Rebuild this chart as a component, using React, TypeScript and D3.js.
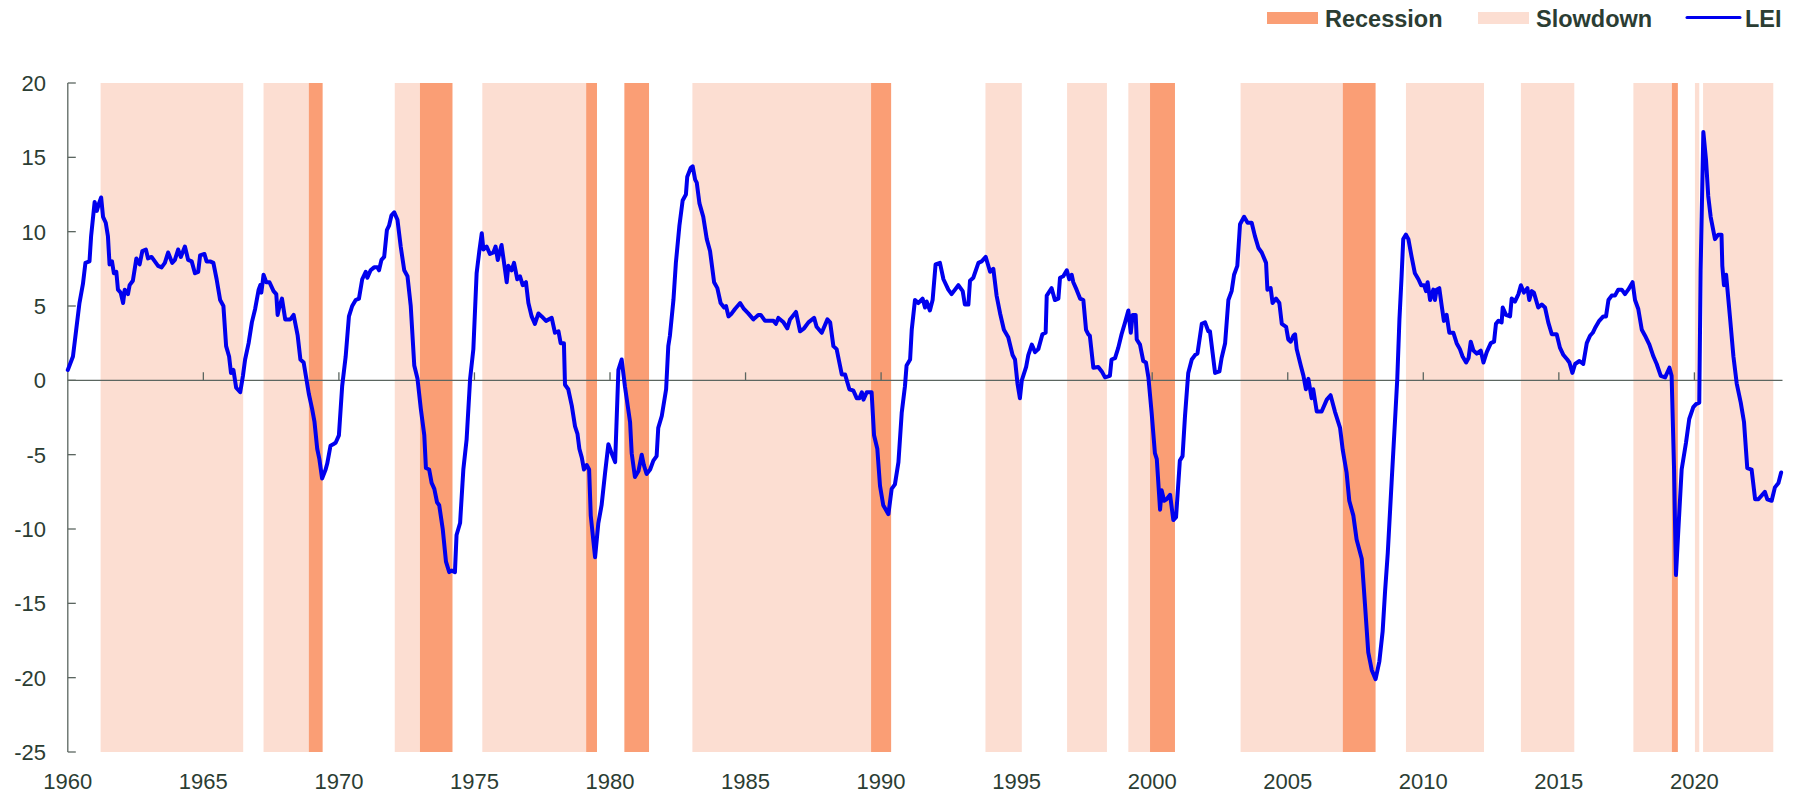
import React from 'react';
import * as d3 from 'd3';

// periods are [start, end] in decimal years
const slowdowns: Array<[number, number]> = [
  [1961.21, 1966.47], [1967.22, 1968.89], [1972.06, 1972.99], [1975.29, 1979.12],
  [1983.04, 1989.63], [1993.85, 1995.19], [1996.86, 1998.33], [1999.12, 1999.92],
  [2003.26, 2007.03], [2009.36, 2012.24], [2013.6, 2015.57], [2017.75, 2019.17],
  [2020.02, 2020.18], [2020.32, 2022.91]
];

const recessions: Array<[number, number]> = [
  [1968.89, 1969.4], [1972.99, 1974.19], [1979.12, 1979.52], [1980.53, 1981.44],
  [1989.63, 1990.37], [1999.92, 2000.84], [2007.03, 2008.24], [2019.17, 2019.39]
];

// LEI, [year, value]
const lei: Array<[number, number]> = [
  [1960.0, 0.7], [1960.19, 1.6], [1960.31, 3.4], [1960.43, 5.2], [1960.56, 6.5], [1960.65, 7.9], [1960.8, 8.0],
  [1960.86, 9.7], [1960.99, 12.0], [1961.07, 11.4], [1961.15, 11.9], [1961.23, 12.3], [1961.3, 11.0], [1961.4, 10.6],
  [1961.48, 9.7], [1961.54, 7.8], [1961.63, 8.0], [1961.7, 7.2], [1961.79, 7.3], [1961.85, 6.1], [1961.95, 5.9],
  [1962.04, 5.2], [1962.1, 6.1], [1962.22, 5.8], [1962.28, 6.4], [1962.4, 6.7], [1962.53, 8.2], [1962.65, 7.8],
  [1962.75, 8.7], [1962.88, 8.8], [1962.96, 8.2], [1963.09, 8.3], [1963.21, 8.0], [1963.33, 7.7], [1963.46, 7.6],
  [1963.58, 7.9], [1963.7, 8.6], [1963.85, 7.9], [1963.95, 8.1], [1964.07, 8.8], [1964.17, 8.3], [1964.32, 9.0],
  [1964.44, 8.1], [1964.57, 8.0], [1964.69, 7.2], [1964.81, 7.3], [1964.88, 8.4], [1965.04, 8.5], [1965.12, 8.0],
  [1965.25, 8.0], [1965.37, 7.9], [1965.49, 6.8], [1965.62, 5.4], [1965.74, 5.0], [1965.84, 2.3], [1965.95, 1.6],
  [1966.02, 0.5], [1966.11, 0.7], [1966.21, -0.5], [1966.36, -0.8], [1966.46, 0.3], [1966.54, 1.4], [1966.67, 2.5],
  [1966.79, 3.9], [1966.91, 4.8], [1967.04, 6.1], [1967.1, 6.4], [1967.14, 5.9], [1967.22, 7.1], [1967.32, 6.6],
  [1967.44, 6.6], [1967.59, 6.0], [1967.69, 5.8], [1967.74, 4.4], [1967.81, 5.0], [1967.9, 5.5], [1968.02, 4.1],
  [1968.21, 4.1], [1968.33, 4.4], [1968.48, 3.0], [1968.58, 1.4], [1968.7, 1.2], [1968.8, 0.1], [1968.89, -0.9],
  [1969.01, -1.9], [1969.1, -2.8], [1969.2, -4.6], [1969.28, -5.3], [1969.38, -6.6], [1969.51, -6.0], [1969.57, -5.6],
  [1969.69, -4.4], [1969.79, -4.3], [1969.88, -4.2], [1970.0, -3.7], [1970.12, -0.4], [1970.25, 1.6], [1970.37, 4.3],
  [1970.49, 5.0], [1970.62, 5.4], [1970.74, 5.5], [1970.86, 6.8], [1970.99, 7.3], [1971.05, 6.9], [1971.17, 7.4],
  [1971.3, 7.6], [1971.42, 7.6], [1971.48, 7.4], [1971.57, 8.1], [1971.67, 8.3], [1971.77, 10.1], [1971.85, 10.4],
  [1971.94, 11.1], [1972.04, 11.3], [1972.16, 10.8], [1972.28, 9.0], [1972.41, 7.4], [1972.53, 7.0], [1972.65, 5.0],
  [1972.78, 1.0], [1972.9, 0.1], [1973.02, -1.9], [1973.15, -3.7], [1973.21, -5.9], [1973.33, -6.0], [1973.42, -6.9],
  [1973.52, -7.3], [1973.62, -8.2], [1973.7, -8.4], [1973.83, -10.0], [1973.95, -12.2], [1974.07, -12.9], [1974.16, -12.8],
  [1974.28, -12.9], [1974.34, -10.4], [1974.47, -9.6], [1974.59, -6.0], [1974.71, -4.0], [1974.84, 0.1], [1974.96, 2.1],
  [1975.08, 7.2], [1975.18, 8.7], [1975.27, 9.9], [1975.33, 8.8], [1975.45, 9.0], [1975.57, 8.5], [1975.7, 8.6],
  [1975.78, 9.0], [1975.86, 8.1], [1975.94, 8.7], [1976.0, 9.1], [1976.13, 7.4], [1976.19, 6.6], [1976.25, 7.7],
  [1976.37, 7.4], [1976.46, 7.9], [1976.58, 6.8], [1976.68, 7.0], [1976.78, 6.4], [1976.9, 6.6], [1976.99, 5.2],
  [1977.11, 4.3], [1977.23, 3.8], [1977.36, 4.5], [1977.48, 4.3], [1977.64, 4.0], [1977.85, 4.2], [1977.97, 3.2],
  [1978.1, 3.3], [1978.18, 2.5], [1978.3, 2.5], [1978.34, -0.3], [1978.46, -0.6], [1978.59, -1.7], [1978.71, -3.1],
  [1978.8, -3.6], [1978.87, -4.6], [1978.96, -5.2], [1979.04, -6.0], [1979.14, -5.7], [1979.23, -6.0], [1979.29, -9.1],
  [1979.45, -11.9], [1979.57, -9.6], [1979.69, -8.4], [1979.82, -6.2], [1979.94, -4.3], [1980.06, -4.9], [1980.19, -5.5],
  [1980.31, 0.7], [1980.43, 1.4], [1980.55, -0.4], [1980.74, -2.8], [1980.8, -4.9], [1980.92, -6.5], [1981.05, -6.1],
  [1981.17, -5.0], [1981.25, -5.7], [1981.35, -6.3], [1981.48, -6.0], [1981.6, -5.4], [1981.72, -5.1], [1981.78, -3.2],
  [1981.91, -2.4], [1982.07, -0.6], [1982.15, 2.3], [1982.21, 3.0], [1982.34, 5.4], [1982.43, 7.9], [1982.56, 10.4],
  [1982.68, 12.1], [1982.8, 12.5], [1982.85, 13.7], [1982.98, 14.3], [1983.05, 14.4], [1983.14, 13.5], [1983.2, 13.3],
  [1983.3, 11.9], [1983.44, 11.0], [1983.57, 9.5], [1983.69, 8.7], [1983.84, 6.6], [1983.96, 6.2], [1984.08, 5.2],
  [1984.21, 4.9], [1984.28, 5.0], [1984.37, 4.3], [1984.49, 4.5], [1984.61, 4.8], [1984.8, 5.2], [1984.94, 4.8],
  [1985.1, 4.5], [1985.29, 4.1], [1985.47, 4.4], [1985.56, 4.4], [1985.72, 4.0], [1986.03, 4.0], [1986.12, 3.8],
  [1986.21, 4.2], [1986.4, 3.9], [1986.54, 3.5], [1986.64, 4.1], [1986.86, 4.6], [1987.01, 3.3], [1987.16, 3.5],
  [1987.32, 3.9], [1987.53, 4.2], [1987.62, 3.6], [1987.81, 3.2], [1988.02, 4.1], [1988.12, 3.9], [1988.24, 2.3],
  [1988.36, 2.1], [1988.55, 0.4], [1988.67, 0.4], [1988.83, -0.6], [1988.98, -0.7], [1989.1, -1.2], [1989.2, -1.2],
  [1989.29, -0.8], [1989.35, -1.3], [1989.47, -0.8], [1989.65, -0.8], [1989.74, -3.7], [1989.86, -4.6], [1989.96, -7.1],
  [1990.08, -8.4], [1990.27, -9.0], [1990.39, -7.3], [1990.51, -7.0], [1990.64, -5.5], [1990.76, -2.2], [1990.88, -0.4],
  [1990.94, 1.0], [1991.07, 1.4], [1991.13, 3.4], [1991.25, 5.4], [1991.37, 5.2], [1991.53, 5.5], [1991.62, 4.9],
  [1991.68, 5.3], [1991.8, 4.7], [1991.9, 5.4], [1992.01, 7.8], [1992.17, 7.9], [1992.3, 6.8], [1992.48, 6.1],
  [1992.6, 5.8], [1992.85, 6.4], [1993.01, 6.0], [1993.09, 5.1], [1993.22, 5.1], [1993.28, 6.7], [1993.4, 6.9],
  [1993.59, 7.9], [1993.71, 8.0], [1993.86, 8.3], [1994.02, 7.3], [1994.14, 7.5], [1994.26, 5.7], [1994.39, 4.5],
  [1994.53, 3.4], [1994.69, 2.9], [1994.85, 1.7], [1994.94, 1.4], [1995.03, -0.2], [1995.12, -1.2], [1995.19, 0.0],
  [1995.35, 0.9], [1995.43, 1.7], [1995.56, 2.4], [1995.68, 1.9], [1995.8, 2.1], [1995.95, 3.1], [1996.07, 3.2],
  [1996.11, 5.7], [1996.29, 6.2], [1996.41, 5.4], [1996.54, 5.5], [1996.6, 6.9], [1996.72, 7.0], [1996.85, 7.4],
  [1996.94, 6.8], [1997.03, 7.1], [1997.09, 6.6], [1997.21, 6.1], [1997.34, 5.5], [1997.46, 5.4], [1997.56, 3.4],
  [1997.64, 3.1], [1997.7, 3.0], [1997.83, 0.85], [1998.01, 0.9], [1998.14, 0.6], [1998.26, 0.2], [1998.44, 0.3],
  [1998.5, 1.4], [1998.63, 1.5], [1998.75, 2.2], [1998.87, 3.1], [1999.0, 3.9], [1999.12, 4.7], [1999.21, 3.2],
  [1999.28, 4.4], [1999.39, 4.4], [1999.43, 2.75], [1999.55, 2.4], [1999.67, 1.3], [1999.77, 1.2], [1999.86, 0.2],
  [1999.98, -2.2], [2000.1, -4.9], [2000.17, -5.3], [2000.29, -8.7], [2000.35, -7.4], [2000.44, -8.1], [2000.53, -8.0],
  [2000.66, -7.7], [2000.78, -9.4], [2000.88, -9.2], [2001.02, -5.4], [2001.12, -5.1], [2001.21, -2.4], [2001.33, 0.5],
  [2001.46, 1.4], [2001.58, 1.7], [2001.67, 1.8], [2001.83, 3.8], [2001.95, 3.9], [2002.07, 3.3], [2002.13, 3.3],
  [2002.32, 0.5], [2002.48, 0.6], [2002.56, 1.5], [2002.69, 2.5], [2002.81, 5.4], [2002.93, 6.0], [2003.02, 7.1],
  [2003.14, 7.7], [2003.24, 10.5], [2003.39, 11.0], [2003.52, 10.6], [2003.67, 10.6], [2003.79, 9.7], [2003.92, 8.9],
  [2004.04, 8.6], [2004.2, 7.9], [2004.25, 6.1], [2004.37, 6.2], [2004.44, 5.2], [2004.57, 5.5], [2004.69, 5.2],
  [2004.78, 3.8], [2004.94, 3.6], [2005.02, 2.75], [2005.11, 2.6], [2005.21, 3.0], [2005.27, 3.1], [2005.33, 2.1],
  [2005.48, 1.0], [2005.58, 0.3], [2005.67, -0.6], [2005.76, 0.1], [2005.88, -1.2], [2005.94, -0.6], [2006.07, -2.1],
  [2006.25, -2.1], [2006.44, -1.3], [2006.58, -1.0], [2006.74, -2.1], [2006.93, -3.2], [2007.03, -4.7], [2007.17, -6.2],
  [2007.27, -8.1], [2007.42, -9.1], [2007.54, -10.7], [2007.73, -12.0], [2007.85, -15.1], [2007.97, -18.3], [2008.1, -19.5],
  [2008.24, -20.1], [2008.38, -18.9], [2008.5, -16.9], [2008.59, -14.2], [2008.69, -11.6], [2008.83, -6.9], [2008.96, -2.6],
  [2009.04, 0.1], [2009.12, 4.1], [2009.2, 7.0], [2009.26, 9.5], [2009.36, 9.8], [2009.45, 9.5], [2009.57, 8.3],
  [2009.69, 7.2], [2009.82, 6.8], [2009.92, 6.4], [2010.03, 6.4], [2010.1, 6.0], [2010.16, 6.6], [2010.25, 5.4],
  [2010.37, 6.1], [2010.43, 5.4], [2010.49, 6.1], [2010.59, 6.2], [2010.68, 5.0], [2010.76, 4.0], [2010.86, 4.4],
  [2010.96, 3.2], [2011.11, 3.2], [2011.23, 2.5], [2011.35, 2.1], [2011.45, 1.6], [2011.58, 1.2], [2011.67, 1.5],
  [2011.75, 2.6], [2011.85, 2.0], [2011.97, 1.8], [2012.12, 2.0], [2012.22, 1.2], [2012.34, 1.9], [2012.49, 2.5],
  [2012.61, 2.6], [2012.68, 3.8], [2012.77, 4.0], [2012.89, 3.9], [2012.93, 4.9], [2013.05, 4.4], [2013.2, 4.3],
  [2013.26, 5.5], [2013.38, 5.3], [2013.51, 5.8], [2013.6, 6.4], [2013.71, 5.9], [2013.84, 6.2], [2013.91, 5.4],
  [2014.0, 6.0], [2014.08, 5.9], [2014.24, 4.9], [2014.37, 5.1], [2014.49, 4.9], [2014.61, 3.9], [2014.74, 3.1],
  [2014.92, 3.1], [2015.04, 2.2], [2015.17, 1.7], [2015.31, 1.4], [2015.39, 1.2], [2015.5, 0.5], [2015.6, 1.1],
  [2015.76, 1.3], [2015.9, 1.1], [2016.03, 2.5], [2016.15, 3.0], [2016.25, 3.2], [2016.33, 3.5], [2016.49, 4.0],
  [2016.64, 4.3], [2016.74, 4.3], [2016.83, 5.4], [2016.95, 5.7], [2017.07, 5.7], [2017.19, 6.1], [2017.32, 6.1],
  [2017.44, 5.8], [2017.56, 6.1], [2017.72, 6.6], [2017.81, 5.4], [2017.93, 4.8], [2018.06, 3.4], [2018.18, 3.0],
  [2018.34, 2.4], [2018.49, 1.6], [2018.61, 1.1], [2018.76, 0.3], [2018.92, 0.2], [2019.08, 0.85], [2019.16, 0.3],
  [2019.25, -6.0], [2019.32, -13.1], [2019.41, -10.0], [2019.53, -6.0], [2019.69, -4.2], [2019.81, -2.6], [2019.96, -1.8],
  [2020.06, -1.6], [2020.18, -1.5], [2020.23, 7.4], [2020.33, 16.7], [2020.43, 14.8], [2020.51, 12.4], [2020.6, 11.0],
  [2020.76, 9.5], [2020.88, 9.8], [2021.0, 9.8], [2021.03, 7.7], [2021.09, 6.4], [2021.17, 7.1], [2021.21, 6.3],
  [2021.31, 4.3], [2021.44, 1.6], [2021.56, -0.2], [2021.71, -1.5], [2021.83, -2.8], [2021.95, -5.9], [2022.11, -6.0],
  [2022.24, -8.0], [2022.36, -8.0], [2022.6, -7.5], [2022.69, -8.0], [2022.85, -8.1], [2022.97, -7.2], [2023.1, -6.9],
  [2023.2, -6.2]
];

const yTicks = [20, 15, 10, 5, 0, -5, -10, -15, -20, -25];
const xTicks = [1960, 1965, 1970, 1975, 1980, 1985, 1990, 1995, 2000, 2005, 2010, 2015, 2020];

const WIDTH = 1799;
const HEIGHT = 794;
const RECESSION = '#FA9E75';
const SLOWDOWN = '#FCDED2';
const LINE = '#0000EE';
const AXIS = '#5B6660';
const TEXT = '#2B3D33';
const FONT = '"Liberation Sans", Arial, sans-serif';

export default function App() {
  const xScale = d3.scaleLinear().domain([1960, 2023.25]).range([67.8, 1782.5]);
  const yScale = d3.scaleLinear().domain([-25, 20]).range([752, 83]);

  const line: any = d3
    .line<[number, number]>()
    .x(d => xScale(d[0]))
    .y(d => yScale(d[1]))
    .curve(d3.curveLinear);

  const top = yScale(20);
  const bottom = yScale(-25);
  const zero = yScale(0);

  const band = (p: [number, number], i: number, fill: string) => (
    <rect
      key={fill + i}
      x={xScale(p[0])}
      y={top}
      width={xScale(p[1]) - xScale(p[0])}
      height={bottom - top}
      fill={fill}
    />
  );

  return (
    <div style={{ position: 'absolute', left: 0, top: 0 }}>
      <svg width={WIDTH} height={HEIGHT} style={{ display: 'block' }} fontFamily={FONT}>
        <rect width={WIDTH} height={HEIGHT} fill="#fff" />
        {/* 阴影区间 */}
        {slowdowns.map((p, i) => band(p, i, SLOWDOWN))}
        {recessions.map((p, i) => band(p, i, RECESSION))}

        {/* y轴 */}
        <line x1={xScale(1960)} x2={xScale(1960)} y1={top} y2={bottom} stroke={AXIS} strokeWidth={1.3} />
        {yTicks.map(t => (
          <g key={t}>
            <line x1={xScale(1960)} x2={xScale(1960) + 8} y1={yScale(t)} y2={yScale(t)} stroke={AXIS} strokeWidth={1.3} />
            <text x={46} y={yScale(t) + 8} fontSize={22} fill={TEXT} textAnchor="end">
              {t}
            </text>
          </g>
        ))}

        {/* x轴 (at zero) */}
        <line x1={xScale(1960)} x2={xScale(2023.25)} y1={zero} y2={zero} stroke={AXIS} strokeWidth={1.3} />
        {xTicks.map(t => (
          <g key={t}>
            {t > 1960 ? (
              <line x1={xScale(t)} x2={xScale(t)} y1={zero} y2={zero - 8} stroke={AXIS} strokeWidth={1.3} />
            ) : null}
            <text x={xScale(t)} y={789} fontSize={22} fill={TEXT} textAnchor="middle">
              {t}
            </text>
          </g>
        ))}

        {/* 折线 */}
        <path d={line(lei)} fill="none" stroke={LINE} strokeWidth={4} strokeLinejoin="round" strokeLinecap="round" />

        {/* 图例 */}
        <g fontWeight="bold" fontSize={23.5} fill={TEXT}>
          <rect x={1267} y={12} width={51} height={12} fill={RECESSION} />
          <text x={1325} y={26.5}>Recession</text>
          <rect x={1478} y={12} width={51} height={12} fill={SLOWDOWN} />
          <text x={1536} y={26.5}>Slowdown</text>
          <line x1={1687} x2={1740} y1={17.5} y2={17.5} stroke={LINE} strokeWidth={3} strokeLinecap="round" />
          <text x={1745} y={26.5}>LEI</text>
        </g>
      </svg>
    </div>
  );
}
